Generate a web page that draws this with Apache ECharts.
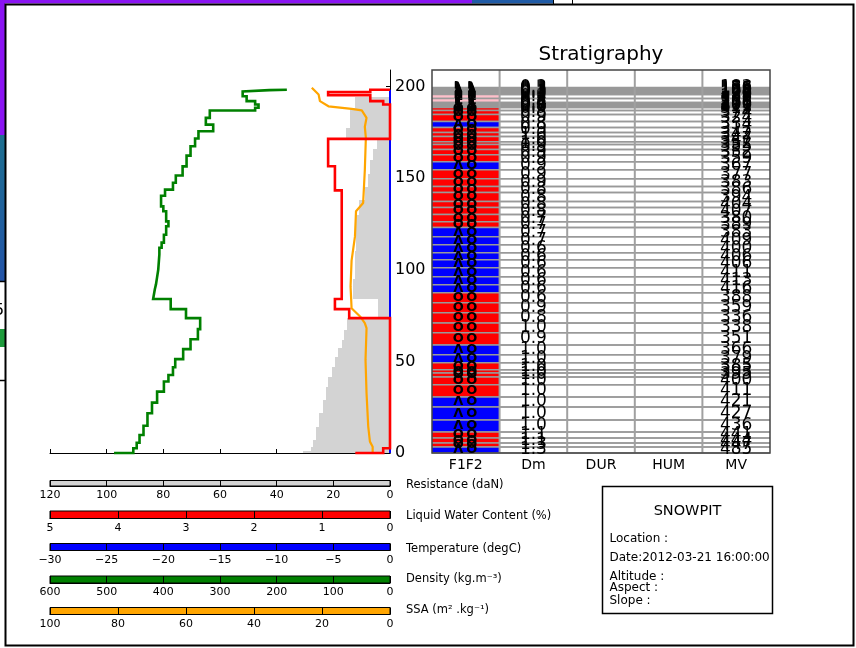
<!DOCTYPE html>
<html>
<head>
<meta charset="utf-8">
<title>Snowpit profile</title>
<script src="https://cdn.jsdelivr.net/npm/echarts@6/dist/echarts.min.js"></script>
<style>
  html, body { margin: 0; padding: 0; background: #ffffff; }
  #chart { width: 856px; height: 648px; }
</style>
</head>
<body>
<div id="chart"></div>
<script>
const FONT = '"DejaVu Sans", sans-serif';

// ---- Shared height scale (cm) ----
const heightMax = 209;
const heightTicks = [0, 50, 100, 150, 200];

// ---- Ram resistance (daN): top of each step and its value ----
const resistanceTop = [194, 188, 177.4, 172, 166, 160, 152, 145, 138, 130, 110, 95, 84, 73.6, 67.2, 61.7, 57.2, 52.6, 47.2, 41.7, 36.2, 29, 21.7, 14.4, 7.1, 3.4, 1];
const resistanceValue = [12.4, 14, 15.5, 4.7, 5.9, 7, 7.6, 8.8, 10.8, 12, 12.4, 13, 4.2, 15.3, 16.2, 17, 18.2, 19.4, 20.6, 21.8, 22.6, 23.8, 25, 26.1, 27.1, 28, 30.6];

// ---- Liquid water content (%) ----
const lwcTop = [198.2, 198.2, 196.9, 195.2, 192, 190.2, 171.4, 156.5, 143.3, 84, 78.5, 73.6, 2.6, 0];
const lwcValue = [0, 0.29, 0.91, 0.29, 0.1, 0, 0.91, 0.81, 0.71, 0.81, 0.6, 0, 0.1, 0.51];

// ---- Temperature (degC) ----
const temperatureHeight = [198.2, 0];
const temperatureValue = [0, 0];

// ---- Density (kg m-3) ----
const densityTop = [198.2, 198.0, 197.3, 194.7, 192.0, 190.2, 188.4, 186.9, 182.9, 179.2, 175.6, 171.6, 167.4, 162.3, 156.4, 151.4, 147.5, 143.7, 140.4, 134.6, 131.9, 126.4, 123.7, 119.1, 114.8, 112.0, 108.4, 100.0, 96.0, 92.0, 89.4, 84.0, 78.5, 73.6, 67.6, 62.1, 56.7, 51.2, 46.8, 42.6, 39.0, 33.5, 27.5, 21.7, 14.9, 9.8, 5.6, 2.6, 0];
const densityValue = [182, 213, 260, 253, 238, 232, 238, 318, 325, 312, 338, 344, 352, 359, 366, 378, 383, 397, 404, 400, 395, 391, 395, 399, 403, 407, 409, 411, 413, 415, 418, 387, 360, 335, 339, 352, 365, 379, 383, 391, 399, 411, 420, 428, 435, 442, 447, 453, 487];

// ---- Specific surface area (m2 kg-1) ----
const ssaHeight = [199.3, 195.6, 192, 189.2, 187.8, 187, 182.9, 178, 172, 154.6, 136.4, 131.9, 118.2, 105, 90.9, 79, 74.5, 70.9, 68.1, 50.8, 32.6, 14.4, 6.2, 3.4, 0.5];
const ssaValue = [23, 21, 20.6, 18.1, 11.3, 8.3, 6.9, 7.4, 7.1, 7.4, 7.9, 10, 10.3, 11.3, 11.6, 11.3, 8.8, 7.4, 6.9, 7.2, 6.9, 6.4, 5.9, 5.1, 5.1];

// ---- Stratigraphy table (layers listed from the surface down) ----
const stratColumns = ['F1F2', 'Dm', 'DUR', 'HUM', 'MV'];
const stratTop = [199.5, 198.9, 198.4, 197.8, 197.3, 196.7, 196.2, 195.6, 193.4, 191.3, 190.7, 190.2, 189.6, 189.1, 188.5, 186.9, 184.7, 180.9, 177.6, 174.9, 172.7, 169.9, 168.3, 165.6, 162.8, 159.0, 154.6, 149.7, 145.4, 142.1, 137.2, 133.9, 130.1, 126.2, 123.0, 118.0, 113.7, 109.3, 105.5, 101.1, 96.2, 91.8, 87.4, 82.0, 76.5, 71.0, 65.6, 59.0, 53.6, 49.2, 45.4, 43.7, 41.5, 37.2, 30.6, 25.1, 18.0, 11.5, 8.2, 5.5, 3.3];
const stratF1 = ['DF', 'DF', 'DF', 'DF', 'DF', 'DF', 'DF',
  'RG', 'RG', 'RG', 'RG', 'RG', 'RG', 'RG',
  'MF', 'MF', 'MF', 'DH', 'MF', 'MF', 'MF', 'MF', 'MF', 'MF', 'MF', 'DH',
  'MF', 'MF', 'MF', 'MF', 'MF', 'MF', 'MF', 'MF',
  'DH', 'DH', 'DH', 'DH', 'DH', 'DH', 'DH', 'DH',
  'MF', 'MF', 'MF', 'MF', 'MF', 'DH', 'DH',
  'MF', 'MF', 'MF', 'MF', 'MF', 'DH', 'DH', 'DH',
  'MF', 'MF', 'MF', 'DH'];
const stratF2 = ['DF', 'DF', 'DF', 'DF', 'DF', 'DF', 'DF',
  'RG', 'RG', 'RG', 'RG', 'RG', 'RG', 'RG',
  'MF', 'MF', 'MF', 'MF', 'MF', 'MF', 'MF', 'MF', 'MF', 'MF', 'MF', 'MF',
  'MF', 'MF', 'MF', 'MF', 'MF', 'MF', 'MF', 'MF',
  'MF', 'MF', 'MF', 'MF', 'MF', 'MF', 'MF', 'MF',
  'MF', 'MF', 'MF', 'MF', 'MF', 'MF', 'MF',
  'MF', 'MF', 'MF', 'MF', 'MF', 'MF', 'MF', 'MF',
  'MF', 'MF', 'MF', 'MF'];
const stratDm = [0.3, 0.3, 0.3, 0.3, 0.3, 0.3, 0.3,
  0.3, 0.3, 0.4, 0.5, 0.6, 0.7, 0.8,
  0.9, 0.8, 0.9, 0.8, 0.9, 1.0, 1.0, 1.0, 0.9, 0.9, 0.9,
  0.9, 0.9, 0.9, 0.8, 0.8, 0.8, 0.8, 0.7, 0.7,
  0.7, 0.7, 0.6, 0.6, 0.6, 0.6, 0.6, 0.6,
  0.6, 0.9, 0.8, 1.0, 0.9,
  1.0, 1.0,
  1.0, 1.0, 1.0, 1.0, 1.0,
  1.0, 1.0, 1.0,
  1.1, 1.1, 1.3, 1.3];
const stratMV = [183, 156, 155, 163, 168, 172, 176,
  188, 235, 256, 275, 296, 301, 311,
  315, 374, 324, 334, 317, 342, 347, 352, 355, 352, 359,
  367, 377, 383, 386, 394, 404, 407, 380, 389,
  383, 409, 400, 406, 406, 411, 413, 416,
  388, 359, 336, 338, 351,
  366, 379,
  385, 393, 395, 400, 411,
  421, 427, 436,
  441, 444, 447, 485];

// Grain type appearance in the F1F2 column
const grainStyle = {
  DF: { fill: '#ffffff', symbol: 'λ', size: 14 },
  RG: { fill: '#ffc0cb', symbol: '1', size: 14 },
  MF: { fill: '#ff0000', symbol: 'O', size: 13 },
  DH: { fill: '#0000ff', symbol: 'Λ', size: 13 }
};

// ---- Scale bars under the profile ----
const scaleNames = ['Resistance (daN)', 'Liquid Water Content (%)', 'Temperature (degC)', 'Density (kg.m⁻³)', 'SSA (m² .kg⁻¹)'];
const scaleMin = [0, 0, -30, 0, 0];
const scaleMax = [120, 5, 0, 600, 100];
const scaleStep = [20, 1, 5, 100, 20];
const scaleInverse = [true, true, false, true, true];
const scaleColors = ['#d3d3d3', '#ff0000', '#0000ff', '#008000', '#ffa500'];

// ---- Snowpit metadata ----
const pitTitle = 'SNOWPIT';
const pitLines = ['Location :', 'Date:2012-03-21 16:00:00', 'Altitude :', 'Aspect :', 'Slope :'];

// Build a stepped profile: vertical run at each value from its top to the next top
function stepPoints(tops, values) {
  const pts = [];
  for (let i = 0; i < tops.length; i++) {
    const bottom = i + 1 < tops.length ? tops[i + 1] : 0;
    pts.push([values[i], tops[i]], [values[i], bottom]);
  }
  return pts;
}

const resistanceData = resistanceTop.map((t, i) => [resistanceValue[i], t, i + 1 < resistanceTop.length ? resistanceTop[i + 1] : 0]);
const stratData = stratTop.map((t, i) => [i, t, i + 1 < stratTop.length ? stratTop[i + 1] : 0]);

// Layout of the panels
const profileBox = { left: 50, top: 70, width: 340, height: 383 };
const tableBox = { left: 432, top: 70, width: 338, height: 383 };
const scaleTops = [480.5, 511, 543.5, 576, 607.5];
const scaleHeights = [5.5, 7.5, 7, 7, 7];

const grids = [
  Object.assign({}, profileBox),
  Object.assign({}, tableBox)
];
scaleTops.forEach((t, k) => {
  grids.push({ left: 50, width: 340, top: t, height: scaleHeights[k], show: true,
    backgroundColor: scaleColors[k], borderColor: '#000', borderWidth: 1 });
});

const hiddenX = (min, max, inverse) => ({ type: 'value', gridIndex: 0, min, max, inverse, show: false });
const xAxes = [
  { type: 'value', gridIndex: 0, min: 0, max: 120, interval: 20, inverse: true, position: 'bottom',
    axisLine: { show: true, onZero: false, lineStyle: { color: '#000', width: 1 } },
    axisTick: { show: true, inside: true, length: 4, lineStyle: { color: '#000' } },
    axisLabel: { show: false }, splitLine: { show: false } },
  hiddenX(0, 5, true),
  hiddenX(-30, 0, false),
  hiddenX(0, 600, true),
  hiddenX(0, 100, true),
  { type: 'value', gridIndex: 1, min: 0, max: 5, show: false },
  { type: 'category', gridIndex: 1, data: stratColumns, position: 'bottom',
    axisLine: { show: false }, axisTick: { show: false },
    axisLabel: { fontSize: 14, color: '#000', margin: 5, fontFamily: FONT } }
];
scaleTops.forEach((t, k) => {
  xAxes.push({ type: 'value', gridIndex: 2 + k, min: scaleMin[k], max: scaleMax[k], interval: scaleStep[k],
    inverse: scaleInverse[k], position: 'bottom',
    axisLine: { show: true, onZero: false, lineStyle: { color: '#000', width: 1 } },
    axisTick: { show: true, inside: true, length: scaleHeights[k], lineStyle: { color: '#000', width: 1 } },
    axisLabel: { fontSize: 11, color: '#000', margin: 4, fontFamily: FONT,
      formatter: v => (v < 0 ? '\u2212' + Math.abs(v) : String(v)) },
    splitLine: { show: false } });
});

const yAxes = [
  { type: 'value', gridIndex: 0, min: 0, max: heightMax, position: 'right',
    axisLine: { show: true, onZero: false, lineStyle: { color: '#000', width: 1 } },
    axisTick: { show: true, inside: true, length: 4, customValues: heightTicks, lineStyle: { color: '#000' } },
    axisLabel: { fontSize: 16, color: '#000', margin: 5, fontFamily: FONT, customValues: heightTicks },
    splitLine: { show: false } },
  { type: 'value', gridIndex: 1, min: 0, max: heightMax, show: false }
];
scaleTops.forEach((t, k) => {
  yAxes.push({ type: 'value', gridIndex: 2 + k, min: 0, max: 1, show: false });
});

function textEl(text, x, y, size, align, extra) {
  return Object.assign({
    type: 'text',
    style: { text, x, y, fill: '#000', font: size + 'px ' + FONT,
      textAlign: align, align: align, textVerticalAlign: 'middle', verticalAlign: 'middle' }
  }, extra || {});
}

const graphics = [
  // window edges behind the figure
  { type: 'rect', shape: { x: 0, y: 0, width: 472, height: 3.5 }, style: { fill: '#8a14f2' } },
  { type: 'rect', shape: { x: 472, y: 0, width: 81, height: 3.5 }, style: { fill: '#1f5ba6' } },
  { type: 'line', shape: { x1: 553.5, y1: 0, x2: 553.5, y2: 4 }, style: { stroke: '#000', lineWidth: 1 } },
  { type: 'line', shape: { x1: 572.5, y1: 0, x2: 572.5, y2: 4 }, style: { stroke: '#000', lineWidth: 1 } },
  { type: 'rect', shape: { x: 0, y: 0, width: 5, height: 135 }, style: { fill: '#8a14f2' } },
  { type: 'rect', shape: { x: 0, y: 135, width: 5, height: 146 },
    style: { fill: { type: 'linear', x: 0, y: 0, x2: 0, y2: 1,
      colorStops: [{ offset: 0, color: '#1d6f8f' }, { offset: 1, color: '#2354a8' }] } } },
  { type: 'line', shape: { x1: 0, y1: 281.5, x2: 5, y2: 281.5 }, style: { stroke: '#000', lineWidth: 1.5 } },
  textEl('5', -6, 311, 16, 'left'),
  { type: 'rect', shape: { x: 0, y: 329, width: 5, height: 18 }, style: { fill: '#1e9b3c' } },
  { type: 'line', shape: { x1: 0, y1: 380.5, x2: 5, y2: 380.5 }, style: { stroke: '#000', lineWidth: 1.5 } },
  { type: 'rect', shape: { x: 5.5, y: 4.5, width: 848, height: 641 },
    style: { fill: 'none', stroke: '#000', lineWidth: 2 } },
  // panel title
  textEl('Stratigraphy', 601, 55, 20, 'center'),
  // snowpit metadata box
  { type: 'rect', shape: { x: 602.5, y: 486.5, width: 170, height: 127 },
    style: { fill: 'none', stroke: '#000', lineWidth: 1.5 } },
  textEl(pitTitle, 687.5, 511.5, 14.5, 'center'),
  textEl(pitLines[0], 609.5, 538.5, 12, 'left'),
  textEl(pitLines[1], 609.5, 557.5, 12, 'left'),
  textEl(pitLines[2], 609.5, 577, 12, 'left'),
  textEl(pitLines[3], 609.5, 587.5, 12, 'left'),
  textEl(pitLines[4], 609.5, 600.5, 12, 'left')
];
const scaleLabelY = [485, 516.5, 549, 579.5, 610.5];
scaleNames.forEach((name, k) => graphics.push(textEl(name, 406, scaleLabelY[k], 11.5, 'left')));

const series = [
  {
    name: 'Resistance', type: 'custom', xAxisIndex: 0, yAxisIndex: 0, z: 1, clip: false,
    data: resistanceData,
    renderItem(params, api) {
      const a = api.coord([api.value(0), api.value(1)]);
      const b = api.coord([0, api.value(2)]);
      const x0 = Math.round(a[0]), y0 = Math.round(a[1]);
      return { type: 'rect', shape: { x: x0, y: y0, width: Math.round(b[0]) - x0, height: Math.round(b[1]) - y0 },
        style: { fill: '#d3d3d3' } };
    }
  },
  {
    name: 'Temperature', type: 'line', xAxisIndex: 2, yAxisIndex: 0, z: 2, clip: false,
    symbol: 'none', lineStyle: { color: '#0000ff', width: 2 },
    data: temperatureHeight.map((h, i) => [temperatureValue[i], h])
  },
  {
    name: 'SSA', type: 'line', xAxisIndex: 4, yAxisIndex: 0, z: 3, clip: false,
    symbol: 'none', lineStyle: { color: '#ffa500', width: 2.2 },
    data: ssaHeight.map((h, i) => [ssaValue[i], h])
  },
  {
    name: 'Density', type: 'line', xAxisIndex: 3, yAxisIndex: 0, z: 4, clip: false,
    symbol: 'none', lineStyle: { color: '#008000', width: 2.6, join: 'miter' },
    data: stepPoints(densityTop, densityValue)
  },
  {
    name: 'LWC', type: 'line', xAxisIndex: 1, yAxisIndex: 0, z: 5, clip: false,
    symbol: 'none', lineStyle: { color: '#ff0000', width: 2.6, join: 'miter' },
    data: stepPoints(lwcTop, lwcValue)
  },
  {
    name: 'Layers', type: 'custom', xAxisIndex: 5, yAxisIndex: 1, z: 6, clip: false,
    data: stratData,
    renderItem(params, api) {
      const i = api.value(0);
      const tl = api.coord([0, api.value(1)]);
      const br = api.coord([1, api.value(2)]);
      const tr = api.coord([5, api.value(1)]);
      const fill = grainStyle[stratF1[i]].fill;
      return { type: 'group', children: [
        { type: 'rect', shape: { x: tl[0], y: tl[1], width: br[0] - tl[0], height: br[1] - tl[1] }, style: { fill } },
        { type: 'line', shape: { x1: tl[0], y1: tl[1], x2: tr[0], y2: tl[1] }, style: { stroke: '#999999', lineWidth: 1.5 } },
        { type: 'line', shape: { x1: tl[0], y1: br[1], x2: tr[0], y2: br[1] }, style: { stroke: '#999999', lineWidth: 1.5 } }
      ] };
    }
  },
  {
    name: 'Table frame', type: 'custom', xAxisIndex: 5, yAxisIndex: 1, z: 7, clip: false,
    data: [[0, 0]],
    renderItem(params, api) {
      const children = [];
      for (let c = 1; c < stratColumns.length; c++) {
        const a = api.coord([c, heightMax]), b = api.coord([c, 0]);
        children.push({ type: 'line', shape: { x1: a[0], y1: a[1], x2: b[0], y2: b[1] },
          style: { stroke: '#a0a0a0', lineWidth: 2 } });
      }
      const tl = api.coord([0, heightMax]), br = api.coord([stratColumns.length, 0]);
      children.push({ type: 'rect', shape: { x: tl[0], y: tl[1], width: br[0] - tl[0], height: br[1] - tl[1] },
        style: { fill: 'none', stroke: '#444444', lineWidth: 1.5 } });
      return { type: 'group', children };
    }
  },
  {
    name: 'Layer text', type: 'custom', xAxisIndex: 5, yAxisIndex: 1, z: 8, clip: false,
    data: stratData,
    renderItem(params, api) {
      const i = api.value(0);
      const mid = (api.value(1) + api.value(2)) / 2;
      const txt = (s, col, size, weight) => {
        const p = api.coord([col, mid]);
        return { type: 'text', style: { text: s, x: p[0], y: p[1], fill: '#000',
          font: (weight || 'normal') + ' ' + size + 'px ' + FONT,
          textAlign: 'center', align: 'center', textVerticalAlign: 'middle', verticalAlign: 'middle' } };
      };
      const g1 = grainStyle[stratF1[i]], g2 = grainStyle[stratF2[i]];
      return { type: 'group', children: [
        txt(g1.symbol, 0.39, g1.size, 'bold'),
        txt(g2.symbol, 0.59, g2.size, 'bold'),
        txt(stratDm[i].toFixed(1), 1.5, 17),
        txt(String(stratMV[i]), 4.5, 17)
      ] };
    }
  }
];

const chart = echarts.init(document.getElementById('chart'), null, { renderer: 'canvas' });
chart.setOption({
  animation: false,
  backgroundColor: '#ffffff',
  textStyle: { fontFamily: FONT },
  graphic: { elements: graphics },
  grid: grids,
  xAxis: xAxes,
  yAxis: yAxes,
  series
});
</script>
</body>
</html>
